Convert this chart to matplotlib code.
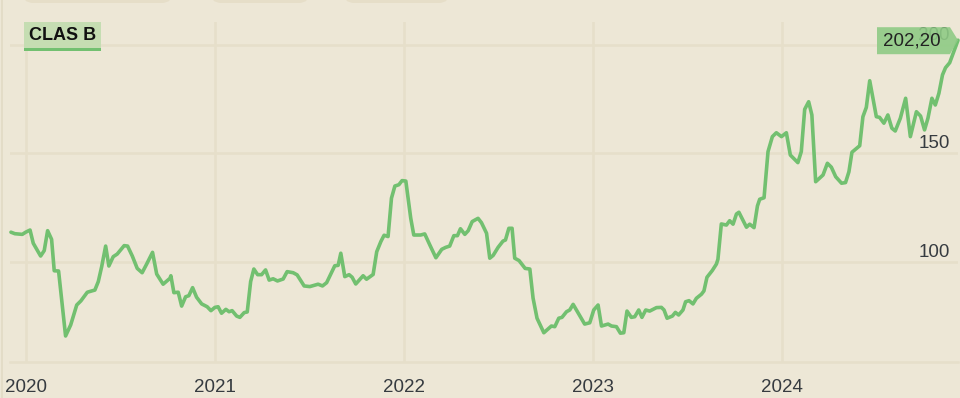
import matplotlib
matplotlib.use('Agg')
import matplotlib.pyplot as plt
import matplotlib.transforms as mtransforms
from matplotlib.patches import Polygon, Rectangle, FancyBboxPatch

plt.rcParams['font.family'] = ['Liberation Sans', 'DejaVu Sans']

BG = '#ede7d6'
GRID = '#e6dfca'
LINE = '#72c070'
TAG = '#8fcb85'
TEXT = '#363b40'

# weekly-ish closes, dates as decimal years
dates = [
    2019.919, 2019.940, 2019.979, 2019.997, 2020.020, 2020.037, 2020.076, 2020.095,
    2020.113, 2020.134, 2020.148, 2020.171, 2020.208, 2020.235, 2020.267, 2020.289,
    2020.323, 2020.363, 2020.381, 2020.399, 2020.420, 2020.437, 2020.460, 2020.481,
    2020.518, 2020.536, 2020.561, 2020.587, 2020.613, 2020.637, 2020.668, 2020.690,
    2020.724, 2020.760, 2020.765, 2020.781, 2020.804, 2020.822, 2020.843, 2020.860,
    2020.880, 2020.901, 2020.928, 2020.957, 2020.977, 2020.998, 2021.015, 2021.033,
    2021.056, 2021.073, 2021.089, 2021.113, 2021.130, 2021.153, 2021.169, 2021.187,
    2021.204, 2021.224, 2021.245, 2021.266, 2021.285, 2021.306, 2021.329, 2021.359,
    2021.380, 2021.412, 2021.433, 2021.470, 2021.500, 2021.544, 2021.567, 2021.589,
    2021.632, 2021.650, 2021.664, 2021.685, 2021.708, 2021.724, 2021.743, 2021.782,
    2021.800, 2021.835, 2021.854, 2021.876, 2021.893, 2021.914, 2021.932, 2021.950,
    2021.971, 2021.988, 2022.008, 2022.034, 2022.050, 2022.086, 2022.108, 2022.135,
    2022.167, 2022.198, 2022.219, 2022.240, 2022.262, 2022.281, 2022.297, 2022.320,
    2022.338, 2022.359, 2022.390, 2022.408, 2022.435, 2022.452, 2022.470, 2022.496,
    2022.522, 2022.535, 2022.553, 2022.570, 2022.584, 2022.607, 2022.639, 2022.664,
    2022.681, 2022.702, 2022.738, 2022.778, 2022.796, 2022.817, 2022.834, 2022.858,
    2022.875, 2022.893, 2022.954, 2022.981, 2023.002, 2023.025, 2023.043, 2023.078,
    2023.096, 2023.122, 2023.143, 2023.161, 2023.178, 2023.201, 2023.219, 2023.240,
    2023.257, 2023.277, 2023.298, 2023.334, 2023.360, 2023.374, 2023.390, 2023.418,
    2023.434, 2023.451, 2023.474, 2023.488, 2023.506, 2023.527, 2023.545, 2023.572,
    2023.585, 2023.601, 2023.629, 2023.651, 2023.659, 2023.677, 2023.704, 2023.721,
    2023.739, 2023.757, 2023.770, 2023.810, 2023.827, 2023.850, 2023.868, 2023.880,
    2023.903, 2023.924, 2023.947, 2023.968, 2023.995, 2024.021, 2024.042, 2024.082,
    2024.100, 2024.118, 2024.139, 2024.156, 2024.176, 2024.215, 2024.238, 2024.259,
    2024.282, 2024.313, 2024.334, 2024.352, 2024.368, 2024.409, 2024.426, 2024.444,
    2024.462, 2024.497, 2024.514, 2024.537, 2024.558, 2024.579, 2024.597, 2024.624,
    2024.652, 2024.677, 2024.709, 2024.731, 2024.752, 2024.770, 2024.791, 2024.809,
    2024.828, 2024.847, 2024.863, 2024.885, 2024.929,
]
prices = [
    113.6, 112.9, 112.6, 113.6, 114.6, 108.5, 102.6, 105.1,
    114.3, 110.3, 95.8, 95.7, 65.7, 70.8, 80.0, 81.9,
    85.9, 86.9, 90.8, 97.7, 107.2, 98.0, 102.3, 103.5,
    107.4, 107.2, 102.6, 96.9, 94.9, 98.9, 104.3, 94.3,
    89.6, 92.3, 93.5, 85.7, 85.9, 79.5, 83.8, 84.3,
    88.0, 83.6, 80.5, 79.2, 77.4, 78.9, 79.2, 76.2,
    78.0, 76.9, 77.4, 74.9, 74.3, 76.5, 76.8, 90.8,
    96.6, 94.0, 94.0, 96.2, 91.5, 92.1, 91.1, 92.0,
    95.4, 94.9, 93.9, 88.8, 88.5, 89.6, 88.8, 90.3,
    98.1, 98.3, 103.9, 93.1, 94.0, 92.8, 89.7, 93.5,
    91.9, 94.1, 104.6, 109.3, 112.2, 111.6, 129.3, 134.9,
    135.5, 137.4, 137.2, 120.0, 112.3, 112.3, 112.8, 107.7,
    101.8, 105.7, 106.6, 107.2, 112.0, 112.0, 115.2, 112.6,
    114.3, 118.5, 120.0, 118.0, 113.1, 101.6, 102.9, 106.6,
    109.5, 110.0, 115.4, 115.4, 101.6, 100.5, 96.9, 96.6,
    83.2, 73.9, 67.2, 70.3, 70.0, 73.9, 74.3, 76.9,
    77.7, 80.3, 71.2, 71.8, 77.7, 80.0, 70.3, 71.2,
    70.3, 70.0, 67.0, 67.2, 77.2, 74.3, 74.6, 77.7,
    74.3, 77.7, 77.2, 78.8, 78.9, 77.7, 73.9, 74.9,
    76.6, 75.4, 77.7, 81.5, 82.0, 80.5, 83.1, 85.0,
    86.5, 92.8, 95.9, 98.9, 101.1, 117.4, 116.9, 118.9,
    117.3, 122.0, 122.8, 115.9, 117.3, 115.7, 125.7, 128.8,
    129.5, 150.8, 157.7, 159.5, 157.7, 159.5, 149.2, 145.7,
    150.8, 170.3, 173.8, 167.7, 136.9, 140.0, 145.4, 143.6,
    139.2, 136.2, 136.5, 141.5, 150.5, 153.5, 166.9, 171.2,
    183.5, 166.9, 166.6, 163.9, 167.7, 161.6, 160.3, 166.2,
    175.4, 157.7, 169.2, 167.2, 160.8, 166.2, 175.4, 172.3,
    177.7, 186.2, 189.5, 191.8, 202.2,
]
year_ticks = [2020, 2021, 2022, 2023, 2024]
price_ticks = [100, 150, 200]
series_name = 'CLAS B'
last_label = '202,20'

W, H = 960, 398
fig = plt.figure(figsize=(W / 100, H / 100), dpi=100, facecolor=BG)
ax = fig.add_axes([10 / W, 36 / H, 948 / W, 340 / H])
ax.set_facecolor(BG)

ax.set_xlim(2019.914, 2024.929)
ax.set_ylim(53.7, 210.6)
ax.set_xticks(year_ticks)
ax.set_xticklabels([str(y) for y in year_ticks])
ax.set_yticks(price_ticks)
ax.set_yticklabels([])
ax.tick_params(axis='both', length=0)
ax.tick_params(axis='x', labelsize=13.5, labelcolor=TEXT, pad=12)
ax.grid(True, color=GRID, lw=1.8)
ax.set_axisbelow(True)
for side in ['top', 'left', 'right']:
    ax.spines[side].set_visible(False)
ax.spines['bottom'].set_color(GRID)
ax.spines['bottom'].set_linewidth(1.8)

# price labels sit just above their grid lines, at the right edge
for p in price_ticks:
    ax.annotate(str(p), xy=(1, p), xycoords=('axes fraction', 'data'),
                xytext=(-6, 3.6), textcoords='offset points',
                ha='right', va='baseline', fontsize=13.5, color=TEXT)

ax.plot(dates, prices, color=LINE, lw=2.6, solid_joinstyle='round',
        solid_capstyle='round', clip_on=False, zorder=3)

# last price tag pointing at the final point
fig.canvas.draw()
tx, ty = ax.transData.transform((dates[-1], prices[-1]))
off = mtransforms.Affine2D().translate(tx, ty)
tag = Polygon([(-81, 13), (-8, 13), (0, 0), (-8, -14), (-81, -14)],
              closed=True, transform=off, facecolor=TAG, edgecolor='none',
              alpha=0.9, zorder=5)
fig.patches.append(tag)
fig.text(tx - 46, ty - 1, last_label, transform=None, ha='center', va='center',
         fontsize=13.5, color='#222222', zorder=6)

# series label box
fig.patches.append(Rectangle((24 / W, 1 - 51 / H), 77 / W, 29 / H,
                             transform=fig.transFigure, facecolor='#c5ddb2',
                             edgecolor='none', zorder=4))
fig.patches.append(Rectangle((24 / W, 1 - 51 / H), 77 / W, 3 / H,
                             transform=fig.transFigure, facecolor=LINE,
                             edgecolor='none', zorder=5))
fig.text(62.5 / W, 1 - 35.5 / H, series_name, ha='center', va='center',
         fontsize=13, fontweight='bold', color='#111111', zorder=6)

# cut-off buttons above the chart
for x0, x1 in [(22, 173), (210, 310), (343, 450)]:
    fig.patches.append(FancyBboxPatch((x0 / W, 1 - 3 / H), (x1 - x0) / W, 20 / H,
                                      boxstyle='round,pad=0,rounding_size=0.012',
                                      transform=fig.transFigure,
                                      facecolor='#e6dec8', edgecolor='none',
                                      mutation_aspect=W / H))
fig.lines.append(plt.Line2D([1.5 / W, 1.5 / W], [0, 1], transform=fig.transFigure,
                            color='#e2dac4', lw=1.2))

fig.savefig('out.png', dpi=100, facecolor=BG)
